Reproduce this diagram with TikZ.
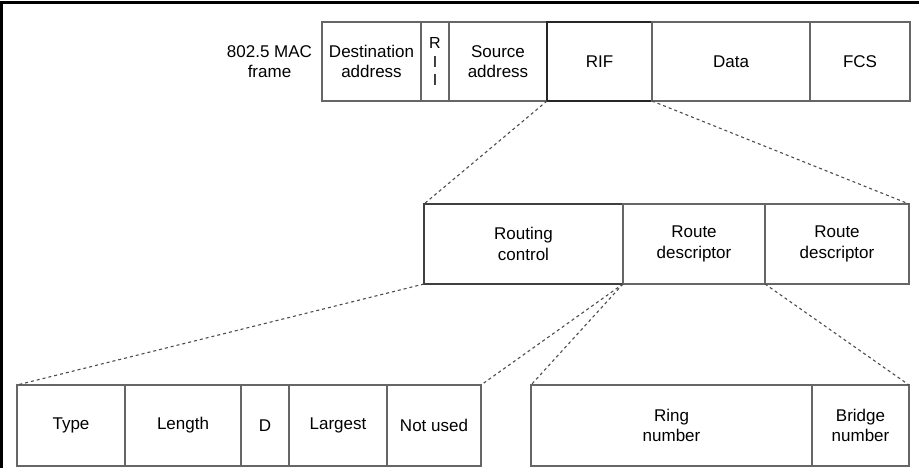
\documentclass[tikz,border=0pt]{standalone}
\usepackage{fontspec}
\setmainfont{Liberation Sans}
\usetikzlibrary{positioning}
\tikzset{
	cell/.style={draw=black!60, line width=1.2pt, outer sep=0pt, inner sep=0pt, align=center, font=\fontsize{17}{20.5}\selectfont},
	toprow/.style={cell, minimum height=79pt},
	midrow/.style={cell, minimum height=80pt},
	lowrow/.style={cell, minimum height=81pt},
	link/.style={draw=black!70, line width=1.1pt, dash pattern=on 3pt off 3pt}
}
\begin{document}
\begin{tikzpicture}[x=1pt, y=-1pt]
			\useasboundingbox (0,0) rectangle (923,468);
			\draw[line width=3pt] (919,3) -- (1.5,3) -- (1.5,468);
			\node[toprow, minimum width=99pt, anchor=north west] (dst) at (322,22) {Destination\\address};
			\node[toprow, minimum width=28pt, right=0pt of dst, font=\fontsize{16}{18.5}\selectfont] (ri) {R\\I\\I};
			\node[toprow, minimum width=98pt, right=0pt of ri] (src) {Source\\address};
			\node[toprow, minimum width=105pt, right=0pt of src, draw=black!85] (rif) {RIF};
			\node[toprow, minimum width=158pt, right=0pt of rif] (data) {Data};
			\node[toprow, minimum width=100pt, right=0pt of data] (fcs) {FCS};
			\node[cell, draw=none, left=10pt of dst] (mac) {802.5 MAC\\frame};
			\node[midrow, minimum width=199pt, anchor=north west, draw=black!75] (rc) at (424,204) {Routing\\control};
			\node[midrow, minimum width=142pt, right=0pt of rc] (rd1) {Route\\descriptor};
			\node[midrow, minimum width=144pt, right=0pt of rd1] (rd2) {Route\\descriptor};
			\node[lowrow, minimum width=108pt, anchor=north west] (type) at (17,385) {Type};
			\node[lowrow, minimum width=116pt, right=0pt of type] (len) {Length};
			\node[lowrow, minimum width=48pt, right=0pt of len] (dbit) {D};
			\node[lowrow, minimum width=98pt, right=0pt of dbit] (lar) {Largest};
			\node[lowrow, minimum width=94pt, right=0pt of lar] (nu) {Not used};
			\node[lowrow, minimum width=281pt, anchor=north west] (ring) at (531,385) {Ring\\number};
			\node[lowrow, minimum width=97pt, right=0pt of ring] (bridge) {Bridge\\number};
			\draw[link] (rif.south west) -- (rc.north west);
			\draw[link] (rif.south east) -- (rd2.north east);
			\draw[link] (rc.south west) -- (type.north west);
			\draw[link] (rc.south east) -- (nu.north east);
			\draw[link] (rc.south east) -- (ring.north west);
			\draw[link] (rd1.south east) -- (bridge.north east);
			\end{tikzpicture}
\end{document}
